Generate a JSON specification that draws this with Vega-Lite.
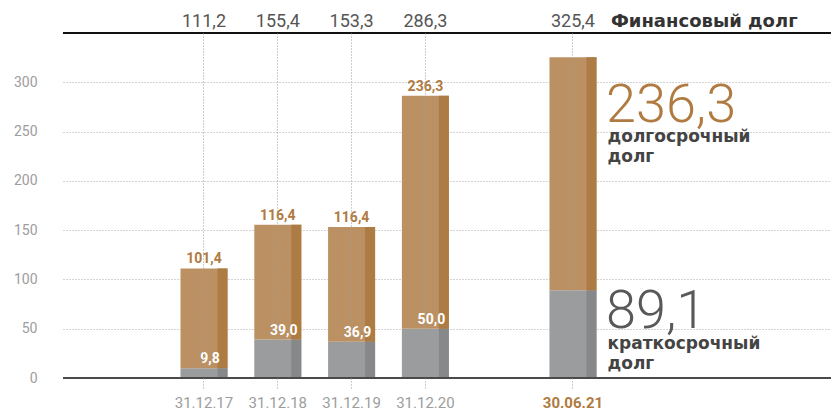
{
  "$schema": "https://vega.github.io/schema/vega-lite/v6.json",
  "width": 768,
  "height": 345,
  "autosize": {"type": "none"},
  "padding": {"left": 63, "top": 33, "right": 0, "bottom": 35},
  "background": "white",
  "config": {
    "view": {"stroke": null},
    "font": "Roboto",
    "locale": {"number": {"decimal": ",", "thousands": " ", "grouping": [3], "currency": ["", ""]}}
  },
  "data": {
    "values": [
      {"date": "31.12.17", "type": "short", "value": 9.8},
      {"date": "31.12.17", "type": "long", "value": 101.4},
      {"date": "31.12.18", "type": "short", "value": 39.0},
      {"date": "31.12.18", "type": "long", "value": 116.4},
      {"date": "31.12.19", "type": "short", "value": 36.9},
      {"date": "31.12.19", "type": "long", "value": 116.4},
      {"date": "31.12.20", "type": "short", "value": 50.0},
      {"date": "31.12.20", "type": "long", "value": 236.3},
      {"date": "30.06.21", "type": "short", "value": 89.1},
      {"date": "30.06.21", "type": "long", "value": 236.3}
    ]
  },
  "transform": [
    {"joinaggregate": [{"op": "sum", "field": "value", "as": "total"}], "groupby": ["date"]}
  ],
  "layer": [
    {
      "mark": {"type": "bar"},
      "encoding": {
        "x": {
          "field": "date", "type": "nominal", "title": null,
          "scale": {
            "domain": ["p0", "31.12.17", "31.12.18", "31.12.19", "31.12.20", "gap", "30.06.21", "p1", "p2"],
            "paddingInner": 0.363, "paddingOuter": 0.885, "align": 0.3345, "round": false
          },
          "axis": {
            "orient": "bottom", "values": ["31.12.17", "31.12.18", "31.12.19", "31.12.20", "30.06.21"],
            "domain": false, "ticks": true, "tickSize": 12, "tickDash": [1, 2], "tickColor": "#9a9a9a", "tickWidth": 1,
            "grid": true, "gridDash": [1, 2], "gridColor": "#9a9a9a", "gridWidth": 1,
            "labelAngle": 0, "labelPadding": 5, "labelFontSize": 15, "labelFont": "Roboto",
            "labelColor": {"condition": {"test": "datum.value === '30.06.21'", "value": "#b07a40"}, "value": "#9d9d9d"},
            "labelFontWeight": {"condition": {"test": "datum.value === '30.06.21'", "value": "bold"}, "value": "normal"},
            "zindex": 1
          }
        },
        "y": {
          "field": "value", "type": "quantitative", "title": null, "stack": "zero",
          "scale": {"domain": [0, 350], "nice": false},
          "axis": {
            "values": [0, 50, 100, 150, 200, 250, 300], "domain": false, "ticks": false,
            "grid": true, "gridDash": [1, 2], "gridColor": "#a8a8a8", "gridWidth": 1,
            "labelPadding": 26, "labelFontSize": 14, "labelColor": "#9d9d9d", "labelFont": "Roboto",
            "zindex": 0
          }
        },
        "order": {"field": "type", "sort": "descending"},
        "color": {"condition": {"test": "datum.type === 'long'", "value": "#bb9163"}, "value": "#9b9c9e"}
      }
    },
    {
      "mark": {"type": "bar", "width": 10, "xOffset": 18.5},
      "encoding": {
        "x": {"field": "date", "type": "nominal", "title": null},
        "y": {"field": "value", "type": "quantitative", "title": null, "stack": "zero"},
        "order": {"field": "type", "sort": "descending"},
        "color": {"condition": {"test": "datum.type === 'long'", "value": "#ad7b44"}, "value": "#87888a"}
      }
    },
    {
      "data": {"values": [{"k": 1}]},
      "mark": {"type": "rule", "color": "#4a4a4a", "strokeWidth": 2},
      "encoding": {"y": {"datum": 0, "type": "quantitative"}}
    },
    {
      "data": {"values": [{"k": 1}]},
      "mark": {"type": "rule", "color": "#111111", "strokeWidth": 2},
      "encoding": {"y": {"datum": 350, "type": "quantitative"}}
    },
    {
      "transform": [{"filter": "datum.type === 'short' && datum.date !== '30.06.21'"}],
      "mark": {"type": "text", "baseline": "alphabetic", "align": "center", "dx": 6, "dy": -5, "fontSize": 14, "fontWeight": "bold", "color": "#ffffff", "font": "Roboto"},
      "encoding": {
        "x": {"field": "date", "type": "nominal", "title": null},
        "y": {"field": "value", "type": "quantitative", "title": null},
        "text": {"field": "value", "type": "quantitative", "format": ".1f"}
      }
    },
    {
      "transform": [{"filter": "datum.type === 'long' && datum.date !== '30.06.21'"}],
      "mark": {"type": "text", "baseline": "alphabetic", "align": "center", "dy": -5, "fontSize": 14, "fontWeight": "bold", "color": "#b07a40", "font": "Roboto"},
      "encoding": {
        "x": {"field": "date", "type": "nominal", "title": null},
        "y": {"field": "total", "type": "quantitative", "title": null},
        "text": {"field": "value", "type": "quantitative", "format": ".1f"}
      }
    },
    {
      "transform": [{"filter": "datum.type === 'long'"}],
      "mark": {"type": "text", "baseline": "alphabetic", "align": "center", "dy": -6, "fontSize": 18, "color": "#555555", "font": "Roboto"},
      "encoding": {
        "x": {"field": "date", "type": "nominal", "title": null},
        "y": {"datum": 350, "type": "quantitative"},
        "text": {"field": "total", "type": "quantitative", "format": ".1f"}
      }
    },
    {
      "data": {"values": [{"label": "Финансовый долг"}]},
      "mark": {"type": "text", "baseline": "alphabetic", "align": "left", "dx": 38, "dy": -6, "fontSize": 18, "fontWeight": "bold", "color": "#333333", "font": "DejaVu Sans"},
      "encoding": {
        "x": {"datum": "30.06.21", "type": "nominal"},
        "y": {"datum": 350, "type": "quantitative"},
        "text": {"field": "label", "type": "nominal"}
      }
    },
    {
      "transform": [{"filter": "datum.type === 'long' && datum.date === '30.06.21'"}],
      "mark": {"type": "text", "baseline": "alphabetic", "align": "left", "dx": 33, "fontSize": 54, "fontWeight": 300, "color": "#b07a40", "font": "Roboto"},
      "encoding": {
        "x": {"field": "date", "type": "nominal", "title": null},
        "y": {"datum": 260, "type": "quantitative"},
        "text": {"field": "value", "type": "quantitative", "format": ".1f"}
      }
    },
    {
      "transform": [{"filter": "datum.type === 'short' && datum.date === '30.06.21'"}],
      "mark": {"type": "text", "baseline": "alphabetic", "align": "left", "dx": 33, "fontSize": 54, "fontWeight": 300, "color": "#58595b", "font": "Roboto"},
      "encoding": {
        "x": {"field": "date", "type": "nominal", "title": null},
        "y": {"datum": 50.7, "type": "quantitative"},
        "text": {"field": "value", "type": "quantitative", "format": ".1f"}
      }
    },
    {
      "data": {"values": [{"line1": "долгосрочный", "line2": "долг", "pos": 239.5}, {"line1": "краткосрочный", "line2": "долг", "pos": 29.1}]},
      "mark": {"type": "text", "baseline": "alphabetic", "align": "left", "dx": 34.5, "fontSize": 17, "fontWeight": "bold", "color": "#444444", "font": "DejaVu Sans", "lineHeight": 20.5},
      "encoding": {
        "x": {"datum": "30.06.21", "type": "nominal"},
        "y": {"field": "pos", "type": "quantitative", "title": null},
        "text": {"field": "line1", "type": "nominal"}
      }
    },
    {
      "data": {"values": [{"line2": "долг", "pos": 218.8}, {"line2": "долг", "pos": 8.8}]},
      "mark": {"type": "text", "baseline": "alphabetic", "align": "left", "dx": 34.5, "fontSize": 17, "fontWeight": "bold", "color": "#444444", "font": "DejaVu Sans"},
      "encoding": {
        "x": {"datum": "30.06.21", "type": "nominal"},
        "y": {"field": "pos", "type": "quantitative", "title": null},
        "text": {"field": "line2", "type": "nominal"}
      }
    }
  ]
}
